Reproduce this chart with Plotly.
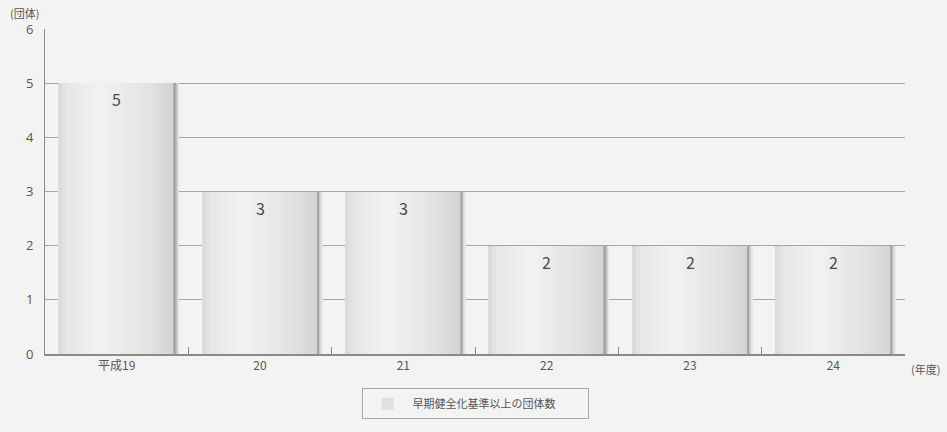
import plotly.graph_objects as go

# Fiscal years and number of local governments at or above the early-warning ratio
years = ["平成19", "20", "21", "22", "23", "24"]
counts = [5, 3, 3, 2, 2, 2]
series_name = "早期健全化基準以上の団体数"
y_ticks = [0, 1, 2, 3, 4, 5, 6]

FONT = "Noto Sans CJK JP"
BG = "#f3f3f3"


def lerp_hex(c1, c2, t):
    a = [int(c1[i:i + 2], 16) for i in (1, 3, 5)]
    b = [int(c2[i:i + 2], 16) for i in (1, 3, 5)]
    return "#" + "".join(f"{round(x + (y - x) * t):02x}" for x, y in zip(a, b))


def shade(t, stops):
    for (t0, c0), (t1, c1) in zip(stops, stops[1:]):
        if t0 <= t <= t1:
            return lerp_hex(c0, c1, (t - t0) / (t1 - t0) if t1 > t0 else 0)
    return stops[-1][1]


# cylinder-like shading across each bar body
body_stops = [(0.0, "#d8d8d8"), (0.07, "#e6e6e6"), (0.35, "#f2f2f2"),
              (0.78, "#e2e2e2"), (1.0, "#d2d2d2")]
BAR_W = 0.812
N = 30
slice_w = BAR_W / N

fig = go.Figure()

# legend entry / base bar
fig.add_trace(go.Bar(
    x=years, y=counts, name=series_name, width=BAR_W,
    marker=dict(color="#e0e0e0", line=dict(width=0)),
    hoverinfo="skip", showlegend=True,
))

for i in range(N):
    t = (i + 0.5) / N
    fig.add_trace(go.Bar(
        x=years, y=counts, width=slice_w * 1.05,
        offset=-BAR_W / 2 + i * slice_w,
        marker=dict(color=shade(t, body_stops), line=dict(width=0)),
        hoverinfo="skip", showlegend=False,
    ))

# soft shadow along the right edge of each bar
shadow_cols = ["#b4b4b4", "#a2a2a2", "#acacac", "#bfbfbf", "#d4d4d4", "#e6e6e6"]
sw = 0.006
for j, col in enumerate(shadow_cols):
    fig.add_trace(go.Bar(
        x=years, y=counts, width=sw * 1.05,
        offset=BAR_W / 2 - 0.008 + j * sw,
        marker=dict(color=col, line=dict(width=0)),
        hoverinfo="skip", showlegend=False,
    ))

# value labels just inside the top of each bar (category index positions)
for idx, v in enumerate(counts):
    fig.add_annotation(
        x=idx, y=v, text=str(v), showarrow=False, yanchor="top", yshift=-2,
        font=dict(family=FONT, size=16, color="#4a4a4a"),
    )

# unit labels
fig.add_annotation(xref="paper", yref="paper", x=-0.043, y=1.05,
                   xanchor="left", yanchor="middle", text="(団体)", showarrow=False,
                   font=dict(family=FONT, size=11, color="#555555"))
fig.add_annotation(xref="paper", yref="paper", x=1.005, y=-0.046,
                   xanchor="left", yanchor="middle", text="(年度)", showarrow=False,
                   font=dict(family=FONT, size=11, color="#555555"))

fig.update_layout(
    width=947, height=432,
    margin=dict(l=45, r=42, t=29, b=78),
    paper_bgcolor=BG, plot_bgcolor=BG,
    barmode="overlay", bargap=0,
    font=dict(family=FONT, color="#555555"),
    showlegend=True,
    legend=dict(
        orientation="h", xref="paper", yref="paper",
        x=0.5, xanchor="center", y=-0.105, yanchor="top",
        bordercolor="#a8a8a8", borderwidth=1, bgcolor=BG,
        font=dict(family=FONT, size=11, color="#555555"),
        entrywidth=170, itemwidth=40,
    ),
)

fig.update_xaxes(
    type="category", categoryorder="array", categoryarray=years,
    range=[-0.5, len(years) - 0.5],
    showgrid=False, showline=True, linecolor="#8a8a8a", linewidth=2,
    ticks="inside", tickson="boundaries", ticklen=7, tickcolor="#8a8a8a",
    tickfont=dict(family=FONT, size=12, color="#555555"), tickangle=0,
    fixedrange=True,
)
fig.update_yaxes(
    range=[0, 6], tickvals=y_ticks,
    showgrid=True, gridcolor="#a6a6a6", gridwidth=1,
    showline=True, linecolor="#8a8a8a", linewidth=1,
    zeroline=False, ticks="", ticklabelstandoff=8,
    tickfont=dict(family="Open Sans", size=13, color="#555555"),
    fixedrange=True,
)

fig.write_html("out.html")
